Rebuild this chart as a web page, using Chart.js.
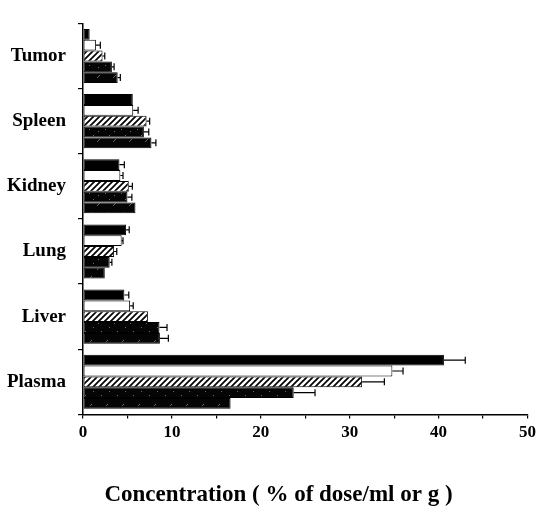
<!DOCTYPE html>
<html>
<head>
<meta charset="utf-8">
<script src="https://cdn.jsdelivr.net/npm/chart.js@4"></script>
<style>
  html, body { margin: 0; padding: 0; background: #fff; }
  #wrap { width: 540px; height: 510px; }
</style>
</head>
<body>
<div id="wrap"><canvas id="organChart" width="540" height="510"></canvas></div>
<script>
// tissues, top to bottom
const organs = ['Tumor', 'Spleen', 'Kidney', 'Lung', 'Liver', 'Plasma'];

// five groups (bar order inside each tissue, top to bottom)
const g1 = [0.75, 5.6, 4.1, 4.85, 4.65, 40.6];
const g1Err = [0, 0, 0.55, 0.35, 0.5, 2.4];
const g2 = [1.45, 5.65, 4.2, 4.35, 5.3, 34.8];
const g2Err = [0.5, 0.55, 0.3, 0.15, 0.35, 1.2];
const g3 = [2.2, 7.15, 5.15, 3.5, 7.3, 31.4];
const g3Err = [0.25, 0.35, 0.4, 0.3, 0, 2.5];
const g4 = [3.25, 6.85, 5.0, 3.0, 8.6, 23.7];
const g4Err = [0.25, 0.55, 0.5, 0.25, 0.85, 2.4];
const g5 = [3.9, 7.7, 5.9, 2.45, 8.65, 16.6];
const g5Err = [0.3, 0.5, 0, 0, 0.95, 0];

const xTicks = [0, 10, 20, 30, 40, 50];

// fill patterns
function hatch() {
  const c = document.createElement('canvas');
  c.width = 6; c.height = 6;
  const x = c.getContext('2d');
  x.fillStyle = '#fff';
  x.fillRect(0, 0, 6, 6);
  x.strokeStyle = '#000';
  x.lineWidth = 1.7;
  x.beginPath();
  x.moveTo(-1, 7); x.lineTo(7, -1);
  x.moveTo(-4, 4); x.lineTo(4, -4);
  x.moveTo(2, 10); x.lineTo(10, 2);
  x.stroke();
  return x.createPattern(c, 'repeat');
}
function speckle(dots) {
  const c = document.createElement('canvas');
  c.width = 16; c.height = 16;
  const x = c.getContext('2d');
  x.fillStyle = '#050505';
  x.fillRect(0, 0, 16, 16);
  x.fillStyle = '#6a6a6a';
  dots.forEach(d => x.fillRect(d[0], d[1], 1, 1));
  return x.createPattern(c, 'repeat');
}
const ctx = document.getElementById('organChart').getContext('2d');
const dotsA = [[2, 3], [9, 1], [13, 7], [5, 11]];
const dotsB = [[1, 13], [2, 12], [3, 11], [10, 5], [11, 4]];

Chart.defaults.font.family = '"Liberation Serif", "Times New Roman", serif';
Chart.defaults.color = '#000';

const errorBars = {
  id: 'errorBars',
  afterLayout(chart) {
    // the axis title sits a little right of the canvas centre
    chart.titleBlock.left += 28;
  },
  afterDatasetsDraw(chart) {
    const c = chart.ctx;
    const xs = chart.scales.x;
    c.save();
    c.strokeStyle = '#000';
    c.lineWidth = 1.2;
    chart.data.datasets.forEach((ds, i) => {
      const meta = chart.getDatasetMeta(i);
      meta.data.forEach((bar, j) => {
        const e = ds.err[j];
        if (!e) return;
        const xe = xs.getPixelForValue(ds.data[j] + e);
        c.beginPath();
        c.moveTo(bar.x, bar.y);
        c.lineTo(xe, bar.y);
        c.moveTo(xe, bar.y - 3.5);
        c.lineTo(xe, bar.y + 3.5);
        c.stroke();
      });
    });
    c.restore();
  }
};

function ds(data, err, fill) {
  return {
    data: data,
    err: err,
    backgroundColor: fill,
    borderColor: '#000',
    borderWidth: 1,
    borderSkipped: false,
    barPercentage: 1,
    categoryPercentage: 0.83
  };
}

new Chart(ctx, {
  type: 'bar',
  data: {
    labels: organs,
    datasets: [
      ds(g1, g1Err, '#000'),
      ds(g2, g2Err, '#fff'),
      ds(g3, g3Err, hatch()),
      ds(g4, g4Err, speckle(dotsA)),
      ds(g5, g5Err, speckle(dotsB))
    ]
  },
  options: {
    indexAxis: 'y',
    responsive: false,
    animation: false,
    layout: { padding: { top: 13, right: 11, left: 0, bottom: 1 } },
    plugins: {
      legend: { display: false },
      tooltip: { enabled: false },
      title: {
        display: true,
        position: 'bottom',
        text: 'Concentration ( % of dose/ml or g )',
        font: { size: 23, weight: 'bold' },
        color: '#000',
        padding: { top: 0, bottom: 0 }
      }
    },
    scales: {
      x: {
        min: 0,
        max: 50,
        afterFit(s) { s.height = 67; },
        afterBuildTicks(s) {
          s.ticks = [];
          for (let v = 0; v <= 50; v += 5) s.ticks.push({ value: v });
        },
        ticks: {
          callback: v => xTicks.includes(v) ? v : '',
          font: { size: 17, weight: 'bold' },
          padding: 4,
          maxRotation: 0,
          autoSkip: false
        },
        grid: { drawOnChartArea: false, tickLength: 4, color: '#000', lineWidth: 1.2 },
        border: { color: '#000', width: 1.5 }
      },
      y: {
        afterFit(s) { s.width = 83; },
        ticks: {
          font: { size: 19, weight: 'bold' },
          padding: 12
        },
        grid: { drawOnChartArea: false, tickLength: 5, color: '#000', lineWidth: 1.2 },
        border: { color: '#000', width: 1.5 }
      }
    }
  },
  plugins: [errorBars]
});
</script>
</body>
</html>
